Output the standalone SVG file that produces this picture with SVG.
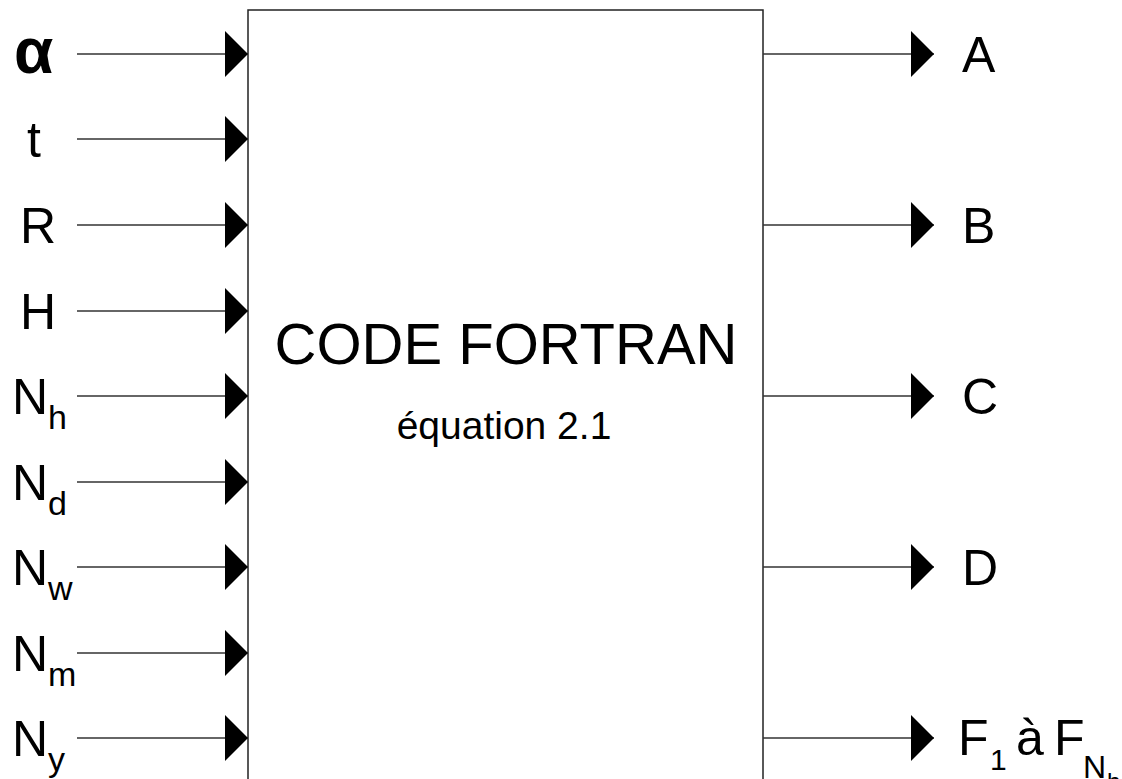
<svg xmlns="http://www.w3.org/2000/svg" width="1122" height="779" viewBox="0 0 1122 779">
<style>
.lbl{font-family:"Liberation Sans",Arial,sans-serif;font-size:50px;fill:#000}
.sub{font-size:34px}
.wire{stroke:#333;stroke-width:1.5;fill:none;marker-end:url(#tri)}
.box{fill:#fff;stroke:#222;stroke-width:1.5}
.title{font-family:"Liberation Sans",Arial,sans-serif;fill:#000;text-anchor:middle}
</style>
<defs>
<marker id="tri" markerUnits="userSpaceOnUse" markerWidth="24" markerHeight="46" viewBox="0 0 22 44" refX="22" refY="22" orient="auto">
<path d="M0,0 L22,22 L0,44 Z" fill="#000"/>
</marker>
</defs>
<rect width="1122" height="779" fill="#fff"/>
<g id="code-fortran">
<rect class="box" x="248" y="10" width="515" height="800"/>
<text class="title" x="506" y="364" font-size="58">CODE FORTRAN</text>
<text class="title" x="504" y="439" font-size="39">équation 2.1</text>
</g>
<g id="connectors">
<line class="wire" x1="77" y1="54" x2="248" y2="54"/>
<line class="wire" x1="77" y1="139" x2="248" y2="139"/>
<line class="wire" x1="77" y1="225" x2="248" y2="225"/>
<line class="wire" x1="77" y1="311" x2="248" y2="311"/>
<line class="wire" x1="77" y1="396" x2="248" y2="396"/>
<line class="wire" x1="77" y1="482" x2="248" y2="482"/>
<line class="wire" x1="77" y1="567" x2="248" y2="567"/>
<line class="wire" x1="77" y1="653" x2="248" y2="653"/>
<line class="wire" x1="77" y1="738" x2="248" y2="738"/>
<line class="wire" x1="763" y1="54" x2="934" y2="54"/>
<line class="wire" x1="763" y1="225" x2="934" y2="225"/>
<line class="wire" x1="763" y1="396" x2="934" y2="396"/>
<line class="wire" x1="763" y1="567" x2="934" y2="567"/>
<line class="wire" x1="763" y1="738" x2="934" y2="738"/>
</g>
<g id="in-alpha"><text class="lbl" x="14" y="73" style="font-size:64px;font-weight:bold">α</text></g>
<g id="in-t"><text class="lbl" x="27" y="157">t</text></g>
<g id="in-R"><text class="lbl" x="20" y="243">R</text></g>
<g id="in-H"><text class="lbl" x="20" y="329">H</text></g>
<g id="in-Nh"><text class="lbl" x="12" y="414">N<tspan class="sub" dy="15">h</tspan></text></g>
<g id="in-Nd"><text class="lbl" x="12" y="500">N<tspan class="sub" dy="15">d</tspan></text></g>
<g id="in-Nw"><text class="lbl" x="12" y="585">N<tspan class="sub" dy="15">w</tspan></text></g>
<g id="in-Nm"><text class="lbl" x="12" y="671">N<tspan class="sub" dy="15">m</tspan></text></g>
<g id="in-Ny"><text class="lbl" x="12" y="756">N<tspan class="sub" dy="15">y</tspan></text></g>
<g id="out-A"><text class="lbl" x="962" y="72">A</text></g>
<g id="out-B"><text class="lbl" x="962" y="243">B</text></g>
<g id="out-C"><text class="lbl" x="962" y="414">C</text></g>
<g id="out-D"><text class="lbl" x="962" y="585">D</text></g>
<g id="out-F"><text class="lbl" x="958" y="755">F<tspan font-size="30" x="990" dy="15">1</tspan><tspan x="1016" dy="-15">à</tspan><tspan x="1054">F</tspan><tspan font-size="32" x="1083" dy="23">N</tspan><tspan font-size="24" x="1107" dy="12">h</tspan></text></g>
</svg>
